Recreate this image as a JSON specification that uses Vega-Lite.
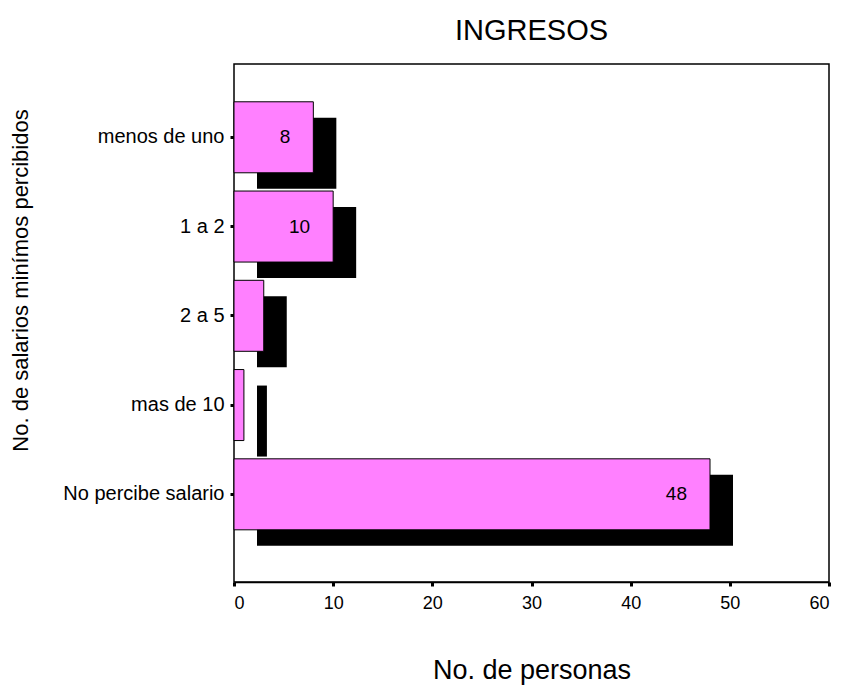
{
  "$schema": "https://vega.github.io/schema/vega-lite/v6.json",
  "autosize": "none",
  "width": 595,
  "height": 518,
  "padding": {"left": 234, "top": 64, "right": 12, "bottom": 103},
  "background": "white",
  "config": {
    "font": "Liberation Sans",
    "view": {"stroke": "black", "strokeWidth": 1.5},
    "axis": {"grid": false, "domainColor": "black", "tickColor": "black", "labelColor": "black", "titleColor": "black", "titleFontWeight": "normal", "labelFont": "Liberation Sans", "titleFont": "Liberation Sans"}
  },
  "title": {"text": "INGRESOS", "fontSize": 29, "fontWeight": "normal", "font": "Liberation Sans", "color": "black", "offset": 18},
  "data": {
    "values": [
      {"categoria": "menos de uno", "personas": 8, "etiqueta": "8"},
      {"categoria": "1 a 2", "personas": 10, "etiqueta": "10"},
      {"categoria": "2 a 5", "personas": 3, "etiqueta": ""},
      {"categoria": "mas de 10", "personas": 1, "etiqueta": ""},
      {"categoria": "No percibe salario", "personas": 48, "etiqueta": "48"}
    ]
  },
  "encoding": {
    "y": {
      "field": "categoria", "type": "nominal",
      "sort": ["menos de uno", "1 a 2", "2 a 5", "mas de 10", "No percibe salario"],
      "scale": {"paddingInner": 0.2045, "paddingOuter": 0.504, "align": 0.42},
      "axis": {"title": "No. de salarios minímos percibidos", "titleFontSize": 22, "titlePadding": 30, "titleY": 216, "labelFontSize": 20, "tickSize": 4, "tickWidth": 3, "labelPadding": 6, "domain": false}
    },
    "x": {
      "field": "personas", "type": "quantitative",
      "scale": {"domain": [0, 60], "nice": false},
      "axis": {"title": "No. de personas", "titleFontSize": 27, "titlePadding": 45, "labelFontSize": 18, "tickSize": 4, "tickWidth": 3, "labelPadding": 8, "values": [0, 10, 20, 30, 40, 50, 60], "domainWidth": 1.5}
    }
  },
  "layer": [
    {"mark": {"type": "bar", "color": "black", "xOffset": 23, "yOffset": 16}},
    {"mark": {"type": "bar", "color": "#FF80FF", "stroke": "black", "strokeWidth": 1}},
    {"mark": {"type": "text", "align": "right", "baseline": "middle", "dx": -23, "fontSize": 19, "color": "black"},
     "encoding": {"text": {"field": "etiqueta"}}}
  ]
}
